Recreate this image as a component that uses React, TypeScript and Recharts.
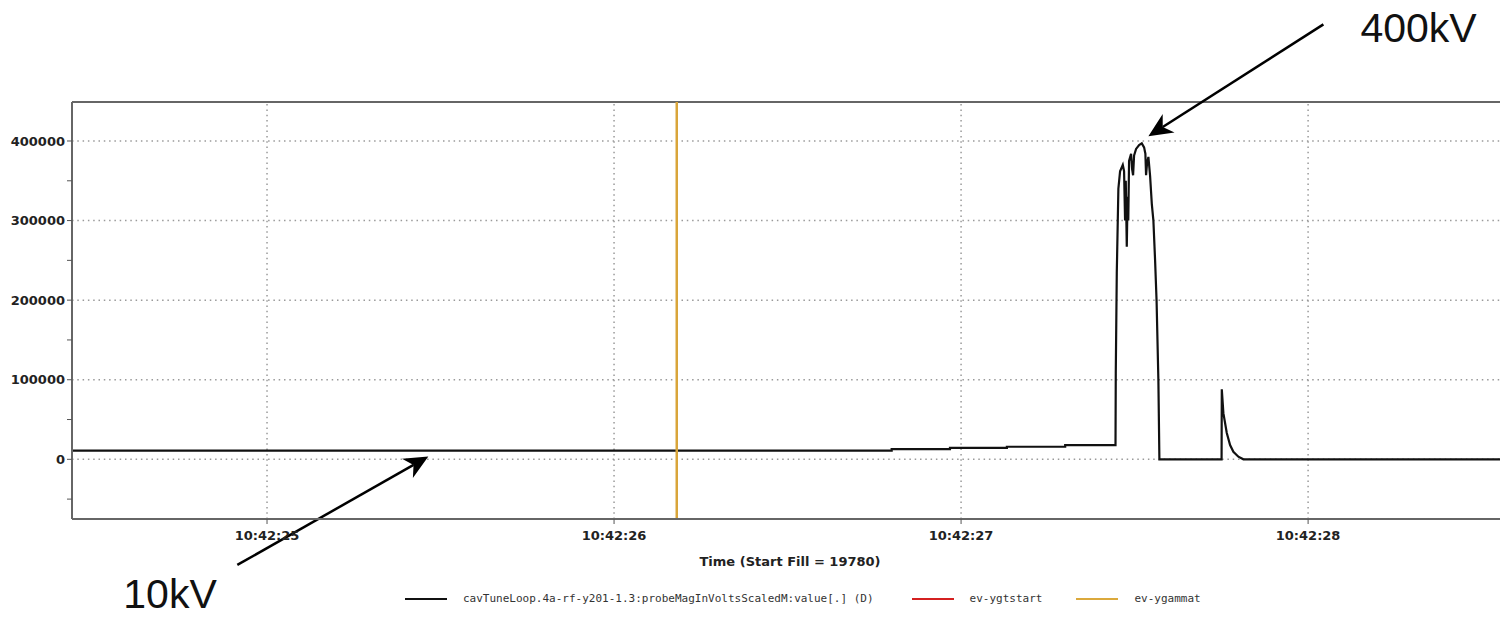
import React from "react";
import { LineChart, Line, XAxis, YAxis, ReferenceLine } from "recharts";

// ---- data (time in seconds after 10:42:00, probe magnitude in volts) ----
const timeSec: number[] = [
  24.43, 26.8, 26.8, 26.968, 26.968, 27.132, 27.132, 27.3, 27.3, 27.445,
  27.4458, 27.4487, 27.4533, 27.4582, 27.466, 27.4697, 27.4726, 27.4746, 27.4775, 27.4798,
  27.4818, 27.4841, 27.4899, 27.4928, 27.4957, 27.4986, 27.5043, 27.513, 27.5207, 27.5274,
  27.5311, 27.5331, 27.536, 27.5398, 27.5447, 27.5496, 27.5542, 27.5591, 27.5634, 27.5686,
  27.5715, 27.7507, 27.7513, 27.7559, 27.7657, 27.7752, 27.7847, 27.7991, 27.8135, 28.56,
];
const probeVolts: number[] = [
  11000, 11000, 12900, 12900, 14500, 14500, 15800, 15800, 17900, 17900,
  108000, 234000, 340000, 362000, 370000, 362000, 300000, 350000, 267000, 330000,
  300000, 375000, 384000, 365000, 357000, 382000, 390000, 395000, 397000, 392000,
  384000, 357000, 372000, 380000, 356000, 321000, 300000, 250000, 199000, 99000,
  0, 0, 88000, 58000, 33000, 18000, 9500, 3300, 0, 0,
];
const gammaEventTime = 26.1807;
const xTicks: number[] = [25, 26, 27, 28];
const yTicks: number[] = [-50000, 0, 50000, 100000, 150000, 200000, 250000, 300000, 350000, 400000];
const yMajor: number[] = [0, 100000, 200000, 300000, 400000];
const xDomain: [number, number] = [24.438, 28.553];
const yDomain: [number, number] = [-75000, 449000];

const seriesName = "cavTuneLoop.4a-rf-y201-1.3:probeMagInVoltsScaledM:value[.] (D)";
const legendItems = [
  { name: seriesName, color: "#111111" },
  { name: "ev-ygtstart", color: "#d42020" },
  { name: "ev-ygammat", color: "#dba93c" },
];

// annotations in data coordinates: [tail, head]
const peakArrow = { tail: { x: 28.0441, y: 546500 }, head: { x: 27.5398, y: 406000 }, text: "400kV" };
const baseArrow = { tail: { x: 24.9144, y: -132700 }, head: { x: 25.4648, y: 3500 }, text: "10kV" };

const data = timeSec.map((t, i) => ({ t, v: probeVolts[i] }));

const tickFont = { fontFamily: "DejaVu Sans", fontWeight: "bold" as const, fontSize: 13, fill: "#222" };

function makeArrowShape(text: string, tdx: number, tdy: number) {
  return (p: any) => {
    const { x1, y1, x2, y2 } = p;
    const dx = x1 - x2;
    const dy = y1 - y2;
    const len = Math.sqrt(dx * dx + dy * dy) || 1;
    const ux = dx / len;
    const uy = dy / len;
    const px = -uy;
    const py = ux;
    const L = 24;
    const W = 11;
    const N = 17;
    const pts = [
      [x2, y2],
      [x2 + ux * L + px * W, y2 + uy * L + py * W],
      [x2 + ux * N, y2 + uy * N],
      [x2 + ux * L - px * W, y2 + uy * L - py * W],
    ]
      .map((q) => q.join(","))
      .join(" ");
    return (
      <g>
        <line x1={x1} y1={y1} x2={x2 + ux * N} y2={y2 + uy * N} stroke="#000" strokeWidth={2.5} />
        <polygon points={pts} fill="#000" />
        <text x={x1 + tdx} y={y1 + tdy} fontFamily="Liberation Sans, Arial, sans-serif" fontSize={41} fill="#111">
          {text}
        </text>
      </g>
    );
  };
}

export default function App() {
  return (
    <div style={{ position: "absolute", left: 0, top: 0, width: 1500, height: 619, background: "#fff" }}>
      <LineChart
        width={1500}
        height={619}
        data={data}
        margin={{ top: 102, right: 0, bottom: 50, left: 0 }}
        style={{ overflow: "visible" }}
      >
        <XAxis
          dataKey="t"
          type="number"
          domain={xDomain}
          allowDataOverflow
          ticks={xTicks}
          interval={0}
          tickFormatter={(t: number) => `10:42:${t}`}
          height={50}
          tickSize={5}
          tickMargin={7}
          axisLine={{ stroke: "#666", strokeWidth: 2 }}
          tickLine={{ stroke: "#555" }}
          tick={tickFont}
          label={{
            value: "Time (Start Fill = 19780)",
            position: "insideBottom",
            offset: 3,
            dx: 4,
            style: { ...tickFont, textAnchor: "middle" },
          }}
        />
        <YAxis
          type="number"
          domain={yDomain}
          allowDataOverflow
          ticks={yTicks}
          interval={0}
          width={72}
          tickSize={5}
          tickMargin={2}
          tickFormatter={(v: number) => (v % 100000 === 0 && v >= 0 ? String(v) : "")}
          axisLine={{ stroke: "#666", strokeWidth: 2 }}
          tickLine={{ stroke: "#555" }}
          tick={tickFont}
        />
        {yMajor.map((v) => (
          <ReferenceLine key={"gy" + v} y={v} stroke="#9a9a9a" strokeWidth={1.5} strokeDasharray="1.5 3.8" />
        ))}
        {xTicks.map((t) => (
          <ReferenceLine key={"gx" + t} x={t} stroke="#9a9a9a" strokeWidth={1.5} strokeDasharray="1.5 3.8" />
        ))}
        <ReferenceLine y={yDomain[1]} stroke="#666" strokeWidth={2} />
        <Line
          dataKey="v"
          name={seriesName}
          type="linear"
          stroke="#111"
          strokeWidth={2.2}
          dot={false}
          activeDot={false}
          isAnimationActive={false}
        />
        <ReferenceLine x={gammaEventTime} stroke="#d9a53a" strokeWidth={2.5} />
        <ReferenceLine
          segment={[peakArrow.tail, peakArrow.head]}
          ifOverflow="visible"
          shape={makeArrowShape(peakArrow.text, 37, 18)}
        />
        <ReferenceLine
          segment={[baseArrow.tail, baseArrow.head]}
          ifOverflow="visible"
          shape={makeArrowShape(baseArrow.text, -114, 43)}
        />
      </LineChart>
      <div
        style={{
          position: "absolute",
          top: 592,
          left: 405,
          display: "flex",
          alignItems: "center",
          fontFamily: "DejaVu Sans Mono, monospace",
          fontSize: 11,
          color: "#333",
          whiteSpace: "nowrap",
        }}
      >
        {legendItems.map((it, i) => (
          <div key={it.name} style={{ display: "flex", alignItems: "center", marginRight: i === 0 ? 38 : 34 }}>
            <div style={{ width: 42, height: 2, background: it.color, marginRight: 16 }} />
            <span>{it.name}</span>
          </div>
        ))}
      </div>
    </div>
  );
}
